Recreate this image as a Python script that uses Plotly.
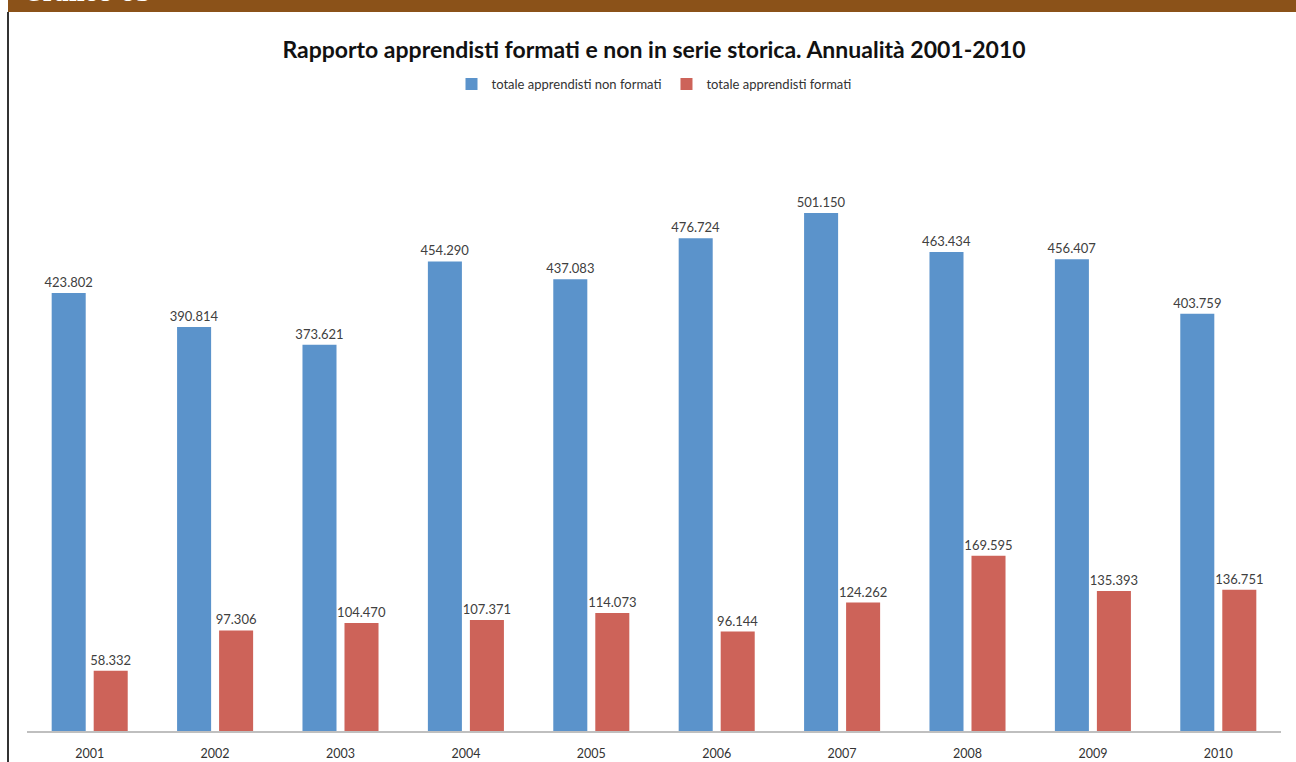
import plotly.graph_objects as go

years = ["2001", "2002", "2003", "2004", "2005", "2006", "2007", "2008", "2009", "2010"]
non_formati = [423802, 390814, 373621, 454290, 437083, 476724, 501150, 463434, 456407, 403759]
formati = [58332, 97306, 104470, 107371, 114073, 96144, 124262, 169595, 135393, 136751]
series_names = ["totale apprendisti non formati", "totale apprendisti formati"]
title_text = "Rapporto apprendisti formati e non in serie storica. Annualità 2001-2010"
header_text = "Grafico 03"


def fmt(v):
    return f"{v:,}".replace(",", ".")


W, H = 1296, 762
ML, MR, MT, MB = 27, 15, 160, 31
FONT = "Lato, Open Sans, sans-serif"

fig = go.Figure()
fig.add_trace(go.Bar(
    x=years, y=non_formati, name=series_names[0],
    marker=dict(color="#5B93CB", line=dict(width=0)),
    text=[fmt(v) for v in non_formati], textposition="outside", constraintext="none",
    textfont=dict(family=FONT, size=13, color="#404040"),
    cliponaxis=False,
))
fig.add_trace(go.Bar(
    x=years, y=formati, name=series_names[1],
    marker=dict(color="#CD6359", line=dict(width=0)),
    text=[fmt(v) for v in formati], textposition="outside", constraintext="none",
    textfont=dict(family=FONT, size=13, color="#404040"),
    cliponaxis=False,
))

plot_h = H - MT - MB
fig.update_layout(
    width=W, height=H,
    margin=dict(l=ML, r=MR, t=MT, b=MB, autoexpand=False),
    paper_bgcolor="white", plot_bgcolor="white",
    barmode="group", bargap=0.33, bargroupgap=0.19,
    title=dict(text="<b>" + title_text + "</b>", x=0.5, xref="paper", xanchor="center",
               y=1 - 50 / H, yanchor="middle",
               font=dict(family=FONT, size=23, color="#111111")),
    legend=dict(orientation="h", x=0.5, xanchor="center", xref="paper",
                y=1 + (MT - 84) / plot_h, yanchor="middle",
                font=dict(family=FONT, size=13, color="#333333"),
                itemwidth=30, traceorder="normal"),
    xaxis=dict(showline=True, linecolor="#BFBFBF", linewidth=1.5, ticks="",
               tickfont=dict(family=FONT, size=12.5, color="#333333"),
               ticklabelstandoff=10, automargin=False),
    yaxis=dict(range=[0, 552400], visible=False, showgrid=False, automargin=False),
    showlegend=True,
)

# header band
fig.add_shape(type="rect", xref="paper", yref="paper",
              x0=(8 - ML) / (W - ML - MR), x1=(W - ML) / (W - ML - MR),
              y0=1 + (MT - 12) / plot_h, y1=1 + (MT + 2) / plot_h,
              fillcolor="#8B5219", line=dict(width=0), layer="below")
# left border
fig.add_shape(type="line", xref="paper", yref="paper",
              x0=(8 - ML) / (W - ML - MR), x1=(8 - ML) / (W - ML - MR),
              y0=-MB / plot_h - 0.01, y1=1 + (MT - 12) / plot_h,
              line=dict(color="#333333", width=2))
fig.add_annotation(text="<b>" + header_text + "</b>", xref="paper", yref="paper",
                   x=(22 - ML) / (W - ML - MR), xanchor="left",
                   y=1 + (MT - 8) / plot_h, yanchor="bottom", showarrow=False,
                   font=dict(family="DejaVu Serif, serif", size=22, color="white"))

fig.write_html("out.html")
